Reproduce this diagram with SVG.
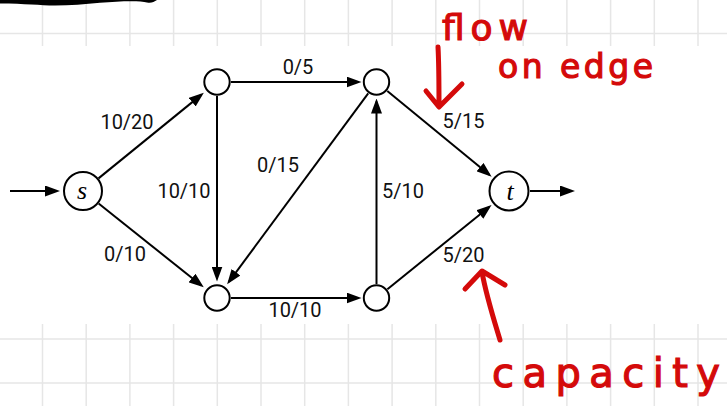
<svg xmlns="http://www.w3.org/2000/svg" width="727" height="406" viewBox="0 0 727 406">
<style>
.grid{stroke:#e6e6e6;stroke-width:1.5;fill:none}
.edge{stroke:#000;stroke-width:2;fill:none;marker-end:url(#ah)}
.node{fill:#fff;stroke:#000;stroke-width:2}
.lbl{font-family:Roboto,"Liberation Sans",sans-serif;font-size:20px;fill:#111;text-anchor:middle}
.nl{font-family:"Liberation Serif",serif;font-style:italic;font-size:26px;fill:#000;text-anchor:middle}
.hand{font-family:"DejaVu Sans",sans-serif;fill:#d40a0a;stroke:#d40a0a;stroke-width:1.2}
.red{stroke:#d40a0a;stroke-width:5;fill:none;stroke-linecap:round;stroke-linejoin:round}
</style>
<defs>
<marker id="ah" markerUnits="userSpaceOnUse" markerWidth="15" markerHeight="11" refX="12" refY="5.5" orient="auto">
<path d="M0,0 L15,5.5 L0,11 Z" fill="#000"/>
</marker>
</defs>
<rect width="727" height="406" fill="#fff"/>
<g id="grid">
<path class="grid" d="M0 33.5H727 M42.5 0V46 M86.2 0V46 M129.9 0V46 M173.6 0V46 M217.3 0V46 M261 0V46 M304.7 0V46 M348.4 0V46 M392.1 0V46 M435.8 0V46 M479.5 0V46 M523.2 0V46 M566.9 0V46 M610.6 0V46 M654.3 0V46 M698 0V46"/>
<path class="grid" d="M0 339H727 M0 383H727 M42.5 324V406 M86.2 324V406 M129.9 324V406 M173.6 324V406 M217.3 324V406 M261 324V406 M304.7 324V406 M348.4 324V406 M392.1 324V406 M435.8 324V406 M479.5 324V406 M523.2 324V406 M566.9 324V406 M610.6 324V406 M654.3 324V406 M698 324V406"/>
</g>
<path id="topstroke" d="M0 0 L157 0 C154 2 151 3.5 147 2.5 C140 0.5 120 1 100 2.8 C85 4.2 70 5.6 55 5.6 C40 5.6 25 3.6 0 3.6 Z" fill="#000"/>
<g id="connectors">
<line class="edge" x1="10" y1="191" x2="57" y2="191"/>
<line class="edge" x1="98.5" y1="178.4" x2="201.5" y2="94.6"/>
<line class="edge" x1="98.6" y1="203.5" x2="201.4" y2="285.5"/>
<line class="edge" x1="231" y1="82" x2="358.5" y2="82"/>
<line class="edge" x1="217" y1="96" x2="217" y2="278.5"/>
<line class="edge" x1="368.2" y1="93.3" x2="228.9" y2="281.9"/>
<line class="edge" x1="376.5" y1="284" x2="376.5" y2="101.5"/>
<line class="edge" x1="387.3" y1="90.9" x2="489.3" y2="174.8"/>
<line class="edge" x1="387.4" y1="289.2" x2="489.2" y2="207"/>
<line class="edge" x1="231" y1="298" x2="358.5" y2="298"/>
<line class="edge" x1="530" y1="191" x2="572" y2="191"/>
</g>
<g id="labels">
<text class="lbl" x="127" y="129">10/20</text>
<text class="lbl" x="298" y="74">0/5</text>
<text class="lbl" x="278" y="172">0/15</text>
<text class="lbl" x="184" y="198">10/10</text>
<text class="lbl" x="125" y="261">0/10</text>
<text class="lbl" x="403" y="198">5/10</text>
<text class="lbl" x="463.5" y="262">5/20</text>
<text class="lbl" x="463.5" y="128">5/15</text>
<text class="lbl" x="295" y="317">10/10</text>
</g>
<g id="node-s"><circle class="node" cx="83" cy="191" r="19"/><text class="nl" x="82" y="199">s</text></g>
<g id="node-a"><circle class="node" cx="217" cy="82" r="12.7"/></g>
<g id="node-b"><circle class="node" cx="376.5" cy="82" r="12.7"/></g>
<g id="node-c"><circle class="node" cx="217" cy="298" r="12.7"/></g>
<g id="node-d"><circle class="node" cx="376.5" cy="298" r="12.7"/></g>
<g id="node-t"><circle class="node" cx="509" cy="191" r="19.5"/><text class="nl" x="510" y="200">t</text></g>
<g id="annotations">
<text class="hand" x="442" y="40" font-size="36" textLength="86" lengthAdjust="spacing">flow</text>
<text class="hand" x="498" y="78" font-size="33" textLength="155" lengthAdjust="spacing">on edge</text>
<path class="red" d="M438 47 C439 65 439 88 439 106 M426 91 L439 107 L462 84"/>
<path class="red" d="M500 340 C494 320 486 295 482 272 M465 289 L482 271 L505 285"/>
<text class="hand" x="492" y="387" font-size="40" textLength="228" lengthAdjust="spacing">capacity</text>
</g>
</svg>
